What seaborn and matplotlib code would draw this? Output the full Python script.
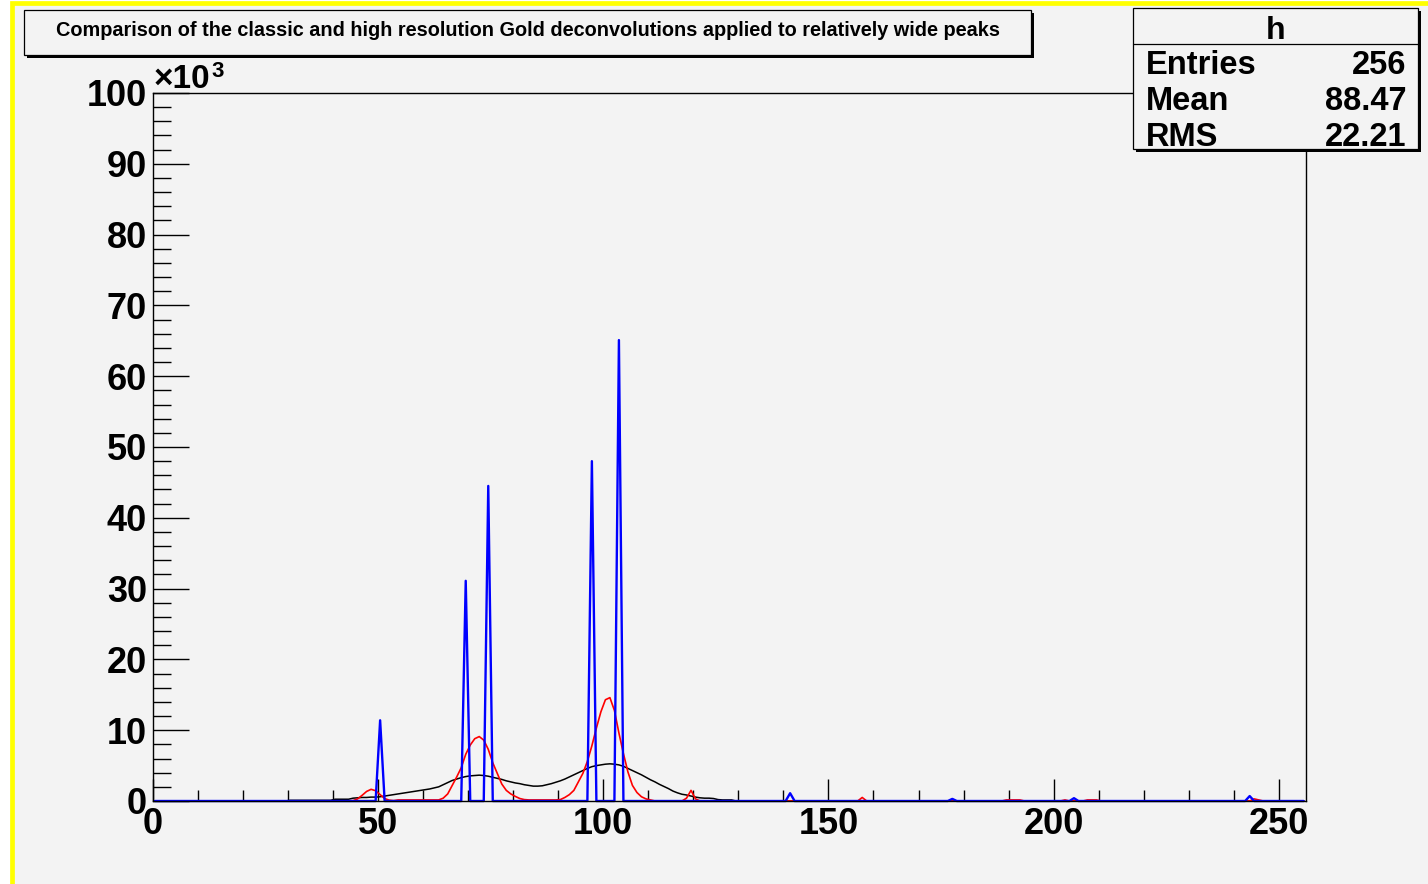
import numpy as np
import pandas as pd
import matplotlib
matplotlib.use("Agg")
import matplotlib.pyplot as plt
import seaborn as sns
from matplotlib.patches import Rectangle
from matplotlib.lines import Line2D
from matplotlib.ticker import MultipleLocator

# ---------------- data (values in thousands of counts) ----------------
N_BINS = 256
X_MIN, X_MAX = 0, 256
Y_MAX = 100

# original source spectrum (black), bins 30..128
source_start = 30
source_vals = [0.1] * 10 + [0.25] * 4 + [
    0.4, 0.45, 0.5, 0.5, 0.55, 0.55,
    0.6, 0.7, 0.8, 0.9, 1.0, 1.1, 1.2, 1.3, 1.4, 1.5,
    1.6, 1.7, 1.85, 2.0, 2.3, 2.6, 2.9, 3.1, 3.3, 3.45,
    3.55, 3.6, 3.65, 3.6, 3.5, 3.35, 3.2, 3.05, 2.85, 2.7,
    2.55, 2.45, 2.3, 2.2, 2.1, 2.1, 2.15, 2.3, 2.45, 2.65,
    2.85, 3.1, 3.4, 3.7, 4.0, 4.3, 4.6, 4.85, 5.0, 5.1,
    5.2, 5.25, 5.2, 5.1, 4.9, 4.6, 4.3, 4.0, 3.7, 3.35,
    3.0, 2.7, 2.35, 2.05, 1.75, 1.4, 1.15, 0.95, 0.85, 0.7,
    0.55, 0.45, 0.4, 0.4, 0.35, 0.2, 0.15, 0.15, 0.15]

# classic Gold deconvolution (red), bins 44..110
classic_start = 44
classic_vals = [
    0.05, 0.3, 0.8, 1.35, 1.65, 1.45, 0.9, 0.35, 0.12, 0.05,
    0.15, 0.15, 0.15, 0.15, 0.15, 0.15, 0.15, 0.15,
    0.15, 0.15, 0.4, 1.0, 2.2, 3.4, 4.7, 6.6, 7.9, 8.8,
    9.1, 8.6, 7.3, 5.4, 3.9, 2.4, 1.5, 1.0, 0.65, 0.35, 0.2, 0.15,
    0.15, 0.15, 0.15, 0.15, 0.15, 0.15,
    0.2, 0.5, 0.9, 1.5, 2.7, 3.9, 5.6, 7.8, 10.3, 12.6,
    14.3, 14.6, 12.8, 9.6, 6.7, 4.1, 2.2, 1.2, 0.6, 0.3, 0.15]
classic_extra_bins = [118, 119, 120, 157, 189, 190, 191, 192, 202, 207, 208, 209, 244, 245]
classic_extra_vals = [0.4, 1.5, 0.3, 0.5, 0.15, 0.15, 0.15, 0.15, 0.15, 0.15, 0.15, 0.15, 0.3, 0.15]

# high resolution (boosted) Gold deconvolution (blue)
boost_bins = [50, 69, 74, 97, 103, 141, 177, 204, 243]
boost_vals = [11.4, 31.1, 44.5, 48.0, 65.1, 1.1, 0.3, 0.4, 0.7]

title_text = "Comparison of the classic and high resolution Gold deconvolutions applied to relatively wide peaks"
stats_name = "h"
stats_labels = ["Entries", "Mean", "RMS"]
stats_values = ["256", "88.47", "22.21"]

# ---------------- build table ----------------
source = np.zeros(N_BINS)
source[source_start:source_start + len(source_vals)] = source_vals
classic = np.zeros(N_BINS)
classic[classic_start:classic_start + len(classic_vals)] = classic_vals
classic[classic_extra_bins] = classic_extra_vals
boost = np.zeros(N_BINS)
boost[boost_bins] = boost_vals

df = pd.DataFrame({
    "x": np.arange(N_BINS) + 0.5,
    "source": source,
    "classic": classic,
    "boost": boost,
})

# ---------------- style ----------------
W, H = 1428, 884
BG = "#f3f3f3"
sns.set_style("ticks")
plt.rcParams["font.family"] = ["Liberation Sans", "DejaVu Sans"]
plt.rcParams["font.weight"] = "bold"
for k in ["text.color", "axes.labelcolor", "xtick.color", "ytick.color",
          "xtick.labelcolor", "ytick.labelcolor"]:
    plt.rcParams[k] = "black"

fig = plt.figure(figsize=(W / 100, H / 100), dpi=100, facecolor="white")


def fx(px):
    return px / W


def fy(py):
    return 1 - py / H


# canvas with yellow border
fig.add_artist(Rectangle((fx(12), fy(H + 20)), (W + 20 - 12) / W, (H + 20 - 2.5) / H,
                         transform=fig.transFigure, facecolor=BG,
                         edgecolor="#ffff00", lw=3.4, zorder=-5))

ax_l, ax_r, ax_t, ax_b = 152.6, 1306.0, 93.0, 801.0
ax = fig.add_axes([fx(ax_l), fy(ax_b), (ax_r - ax_l) / W, (ax_b - ax_t) / H])
ax.set_facecolor(BG)

sns.lineplot(data=df, x="x", y="source", color="black", lw=1.1, ax=ax)
sns.lineplot(data=df, x="x", y="classic", color="#ff0000", lw=1.2, ax=ax)
sns.lineplot(data=df, x="x", y="boost", color="#0000ff", lw=1.7, ax=ax)
for ln in ax.lines:
    ln.set_clip_on(False)

ax.set_xlim(X_MIN, X_MAX)
ax.set_ylim(0, Y_MAX)
ax.set_xlabel("")
ax.set_ylabel("")
ax.xaxis.set_major_locator(MultipleLocator(50))
ax.xaxis.set_minor_locator(MultipleLocator(10))
ax.yaxis.set_major_locator(MultipleLocator(10))
ax.yaxis.set_minor_locator(MultipleLocator(2))
ax.tick_params(axis="both", which="both", direction="in", width=1.0, color="black",
               top=False, right=False, labelsize=26, labelcolor="black")
ax.tick_params(axis="x", which="major", length=16, pad=4)
ax.tick_params(axis="x", which="minor", length=8)
ax.tick_params(axis="y", which="major", length=26, pad=4)
ax.tick_params(axis="y", which="minor", length=13)
for lab in ax.get_xticklabels() + ax.get_yticklabels():
    lab.set_fontweight("bold")
for sp in ax.spines.values():
    sp.set_visible(True)
    sp.set_color("black")
    sp.set_linewidth(1.0)

# x10^3 multiplier
fig.text(fx(154), fy(88), "\u00d710", fontsize=24, fontweight="bold", ha="left", va="baseline")
fig.text(fx(211), fy(77), "3", fontsize=16, fontweight="bold", ha="left", va="baseline")


def box(x0, y0, x1, y1, shadow=3):
    fig.add_artist(Rectangle((fx(x0 + shadow), fy(y1 + shadow)), (x1 - x0) / W, (y1 - y0) / H,
                             transform=fig.transFigure, facecolor="black",
                             edgecolor="black", lw=0, zorder=5))
    fig.add_artist(Rectangle((fx(x0), fy(y1)), (x1 - x0) / W, (y1 - y0) / H,
                             transform=fig.transFigure, facecolor=BG,
                             edgecolor="black", lw=0.9, zorder=6))


# title box
box(24, 10, 1031, 55)
fig.text(fx(528), fy(31), title_text, fontsize=14.3, fontweight="bold",
         ha="center", va="center", zorder=7)

# stats box
box(1133, 8, 1418, 149)
fig.add_artist(Line2D([fx(1133), fx(1418)], [fy(43.5), fy(43.5)], transform=fig.transFigure,
                      color="black", lw=0.9, zorder=7))
fig.text(fx(1276), fy(31), stats_name, fontsize=23, fontweight="bold",
         ha="center", va="center", zorder=7)
for i, (lab, val) in enumerate(zip(stats_labels, stats_values)):
    yy = 66 + i * 35.5
    fig.text(fx(1146), fy(yy), lab, fontsize=23.5, fontweight="bold", ha="left", va="center", zorder=7)
    fig.text(fx(1406), fy(yy), val, fontsize=23.5, fontweight="bold", ha="right", va="center", zorder=7)

fig.savefig("out.png", dpi=100, facecolor="white")
